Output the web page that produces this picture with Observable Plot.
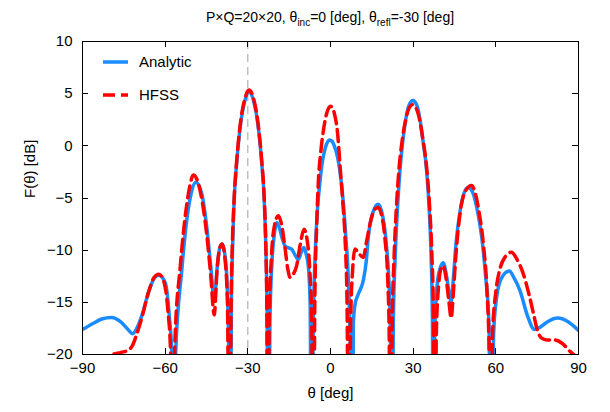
<!DOCTYPE html>
<html><head><meta charset="utf-8">
<script src="https://cdn.jsdelivr.net/npm/d3@7"></script>
<script src="https://cdn.jsdelivr.net/npm/@observablehq/plot@0.6"></script>
<style>body{margin:0;background:#fff;} svg{display:block}</style>
</head><body><div id="chart"></div>
<script>
// ---- data ----
const seriesNames = ["Analytic", "HFSS"];
const titleParts = ["P×Q=20×20, θ", "inc", "=0 [deg], θ", "refl", "=-30 [deg]"];
const xLabel = "θ [deg]";
const yLabel = "F(θ) [dB]";
const xTicks = [-90, -60, -30, 0, 30, 60, 90];
const yTicks = [-20, -15, -10, -5, 0, 5, 10];
const reflAngle = -30;

const analytic = [[-90,-17.6],[-86,-17.0],[-83,-16.6],[-79.5,-16.45],[-76,-16.9],[-73.5,-17.6],[-71.8,-18.0],[-70.5,-17.6],[-68.5,-16.3],[-66,-14.0],[-64,-12.7],[-62.3,-12.4],[-60,-13.1],[-58.5,-16.3],[-57.6,-20],[-57,-40],[-56.2,-20],[-54,-12],[-52.2,-7.2],[-50.6,-4.6],[-48.9,-3.5],[-46.7,-4.6],[-44.9,-7.8],[-43.4,-11.7],[-42.2,-14.9],[-41,-11.3],[-40.2,-9.8],[-39.3,-9.4],[-38.3,-10.5],[-37.5,-13.5],[-36.9,-20],[-36.5,-40],[-36,-16],[-35.5,-9.5],[-35,-5.5],[-34,-1.5],[-33,1.3],[-32,3.2],[-31,4.4],[-29.6,5.15],[-28,4.4],[-27,3.2],[-26,1.3],[-25,-1.5],[-24,-5.5],[-23.5,-9.5],[-23,-16],[-22.6,-40],[-22.0,-17],[-21.2,-11],[-20.3,-8.3],[-19.5,-7.35],[-18.5,-7.9],[-17.5,-8.9],[-16.5,-9.6],[-15,-9.8],[-14.1,-9.9],[-13,-10.4],[-11.7,-10.9],[-10.6,-10.2],[-9.6,-9.75],[-8.8,-10.4],[-8.0,-11.7],[-7.4,-15],[-6.8,-40],[-6.3,-18],[-5.5,-10],[-4.7,-6],[-3.8,-3.4],[-3,-1.6],[-2,-0.3],[-1,0.4],[-0.3,0.55],[0.5,0.45],[1.5,-0.1],[2.5,-1.0],[3.4,-2.4],[4.5,-5],[5.5,-8.5],[6.5,-13],[7.2,-20],[7.7,-40],[8.3,-17],[8.9,-15.2],[10.1,-14.2],[11.9,-12.9],[13,-11],[13.7,-8.8],[15.5,-6.3],[17.3,-5.6],[19,-6.8],[20.3,-9.5],[21,-12],[21.7,-17],[22.2,-40],[22.8,-17],[23.5,-10.5],[24.3,-6],[25.2,-2.4],[26.3,0.6],[27.3,2.5],[28.5,3.9],[29.9,4.35],[31.3,3.9],[32.5,2.5],[33.5,0.6],[34.9,-2.4],[35.8,-6],[36.5,-10.5],[37.0,-17],[37.3,-40],[37.8,-18],[38.5,-14],[39.5,-12],[40.9,-11.2],[42,-12.3],[43,-14],[43.7,-15.0],[44.5,-13],[45.5,-9.5],[47,-6.3],[48.5,-4.5],[50,-4.0],[51.5,-4.4],[53,-5.8],[54.9,-8.8],[56.3,-12.5],[57.5,-17],[58.3,-40],[59.2,-18],[60.3,-14.5],[62,-12.7],[64.9,-12.0],[66.5,-12.6],[68.8,-13.9],[71.5,-16.3],[74,-17.6],[76,-17.4],[78.5,-16.9],[82.5,-16.5],[86.5,-16.9],[90,-17.7]];

const hfss = [[-90,-24],[-86,-22],[-82.5,-20.6],[-80,-20.1],[-76,-19.8],[-73.5,-19.6],[-72,-19.2],[-70.5,-18.2],[-68.5,-16.5],[-66,-14],[-64,-12.6],[-62.3,-12.3],[-60.5,-13],[-59,-15.8],[-58,-20],[-57.3,-40],[-56.5,-19],[-54.5,-11.5],[-52.5,-6.3],[-51,-3.8],[-49.8,-2.8],[-48.5,-3.2],[-47,-4.7],[-45,-8.3],[-43.5,-12.3],[-42.2,-16.2],[-41.2,-12],[-40.2,-9.8],[-39.3,-9.4],[-38.3,-10.8],[-37.4,-15],[-36.6,-40],[-36.1,-16],[-35.6,-9.3],[-35,-5.2],[-34,-1.3],[-33,1.5],[-32,3.4],[-31,4.6],[-29.6,5.35],[-28,4.6],[-27,3.4],[-26,1.5],[-25,-1.3],[-24,-5.3],[-23.5,-9.3],[-23.1,-16],[-22.8,-40],[-22.2,-16],[-21.4,-10.5],[-20.3,-7.6],[-18.9,-6.7],[-17.8,-7.5],[-16.5,-9.8],[-15.5,-11.8],[-14.7,-12.6],[-13.5,-12.3],[-12.3,-11.5],[-11,-9.5],[-9.6,-8.0],[-8.5,-9.0],[-7.5,-12],[-6.8,-17],[-6.2,-40],[-5.7,-15],[-5,-7.5],[-4.4,-3.4],[-3.5,-0.5],[-2.5,1.6],[-1.5,3.0],[-0.5,3.7],[0,3.8],[0.5,3.7],[1.5,3.0],[2.5,1.4],[3.6,-2.4],[4.5,-5.5],[5.3,-9],[6,-15],[6.7,-40],[7.3,-17],[8.0,-12],[8.9,-9.9],[10,-10.2],[11.9,-10.7],[13,-9.3],[14.5,-7.3],[16,-6.1],[17.3,-5.9],[18.5,-6.6],[19.8,-9],[20.8,-13],[21.3,-18],[21.8,-40],[22.4,-17],[23.1,-10.5],[24.0,-5.5],[24.8,-2.4],[26,0.5],[27.2,2.4],[28.5,3.6],[29.8,3.95],[31.1,3.6],[32.4,2.4],[33.6,0.5],[35.0,-2.4],[36,-6],[36.8,-10.5],[37.4,-17],[37.9,-40],[38.4,-18],[39.2,-13.5],[40.2,-11.7],[40.9,-11.5],[42,-12.8],[43,-15],[43.8,-16.5],[44.6,-14],[45.5,-10.5],[47,-6.5],[49,-4.3],[51.2,-3.8],[52.5,-4.5],[54,-6.5],[55.5,-9.5],[56.8,-14],[57.6,-20],[58.1,-40],[58.8,-18],[60,-14],[61.5,-11.8],[63.5,-10.6],[65.7,-10.2],[67.5,-10.8],[70,-12.3],[72,-14.2],[73.6,-16.0],[75,-17.6],[76.5,-18.4],[78.5,-18.6],[81,-18.6],[83.9,-18.9],[86.9,-19.7],[89.3,-20.3],[90,-20.6]];

// ---- styles ----
const FONT = '"Liberation Sans", Arial, Helvetica, sans-serif';
const BLUE = "#1a8cff";
const RED = "#ff0000";
const DASH = "12,6";
const LW = 3.5;
const TICK = 6;

function titleMark(index, scales, values, dims) {
  const cx = (dims.marginLeft + dims.width - dims.marginRight) / 2;
  const t = d3.create("svg:text")
    .attr("x", cx).attr("y", dims.marginTop - 19)
    .attr("text-anchor", "middle")
    .attr("font-family", FONT).attr("font-size", 14).attr("fill", "#000");
  t.append("tspan").text(titleParts[0]);
  t.append("tspan").attr("font-size", 10).attr("dy", 4).text(titleParts[1]);
  t.append("tspan").attr("dy", -4).text(titleParts[2]);
  t.append("tspan").attr("font-size", 10).attr("dy", 4).text(titleParts[3]);
  t.append("tspan").attr("dy", -4).text(titleParts[4]);
  return t.node();
}

// inward ticks on all four sides, positioned by the chart's own scales
function innerTicks(index, scales, values, dims) {
  const g = d3.create("svg:g").attr("stroke", "#000").attr("stroke-width", 1);
  const top = dims.marginTop, bottom = dims.height - dims.marginBottom;
  const left = dims.marginLeft, right = dims.width - dims.marginRight;
  for (const t of xTicks) {
    const x = Math.round(scales.x(t)) + 0.5;
    g.append("line").attr("x1", x).attr("x2", x).attr("y1", bottom).attr("y2", bottom - TICK);
    g.append("line").attr("x1", x).attr("x2", x).attr("y1", top).attr("y2", top + TICK);
  }
  for (const t of yTicks) {
    const y = Math.round(scales.y(t)) + 0.5;
    g.append("line").attr("x1", left).attr("x2", left + TICK).attr("y1", y).attr("y2", y);
    g.append("line").attr("x1", right).attr("x2", right - TICK).attr("y1", y).attr("y2", y);
  }
  return g.node();
}

function legendMark(index, scales, values, dims) {
  const g = d3.create("svg:g").attr("font-family", FONT).attr("font-size", 15);
  const x0 = dims.marginLeft + 21, x1 = x0 + 25;
  const items = [
    {name: seriesNames[0], color: BLUE, dash: null},
    {name: seriesNames[1], color: RED, dash: DASH}
  ];
  items.forEach((it, i) => {
    const y = dims.marginTop + 21 + i * 33;
    g.append("line").attr("x1", x0).attr("x2", x1).attr("y1", y).attr("y2", y)
      .attr("stroke", it.color).attr("stroke-width", LW)
      .attr("stroke-dasharray", it.dash);
    g.append("text").attr("x", x1 + 11).attr("y", y).attr("dy", "0.35em")
      .attr("text-anchor", "start")
      .attr("fill", "#000").text(it.name);
  });
  return g.node();
}

const chart = Plot.plot({
  width: 610,
  height: 412,
  marginLeft: 82,
  marginRight: 32,
  marginTop: 41,
  marginBottom: 58,
  style: {fontFamily: FONT, fontSize: "15px", color: "#000", background: "#fff", overflow: "visible"},
  x: {domain: [-90, 90]},
  y: {domain: [-20, 10]},
  marks: [
    Plot.ruleX([reflAngle], {stroke: "#a0a0a0", strokeWidth: 1, strokeDasharray: "8,5"}),
    Plot.line(analytic, {x: d => d[0], y: d => d[1], stroke: BLUE, strokeWidth: LW, curve: "monotone-x", clip: true}),
    Plot.line(hfss, {x: d => d[0], y: d => d[1], stroke: RED, strokeWidth: LW, strokeDasharray: DASH, curve: "monotone-x", clip: true}),
    Plot.frame({stroke: "#000", strokeWidth: 1}),
    Plot.axisX({anchor: "bottom", ticks: xTicks, tickSize: 0, tickPadding: 8, label: null, fontSize: 15}),
    Plot.axisY({anchor: "left", ticks: yTicks, tickSize: 0, tickPadding: 10, label: null, fontSize: 15}),
    innerTicks,
    Plot.text([xLabel], {frameAnchor: "bottom", dy: 43, fontSize: 15, fill: "#000"}),
    Plot.text([yLabel], {frameAnchor: "left", dx: -52, rotate: -90, fontSize: 15, fill: "#000"}),
    titleMark,
    legendMark
  ]
});
document.getElementById("chart").appendChild(chart);
</script>
</body></html>
